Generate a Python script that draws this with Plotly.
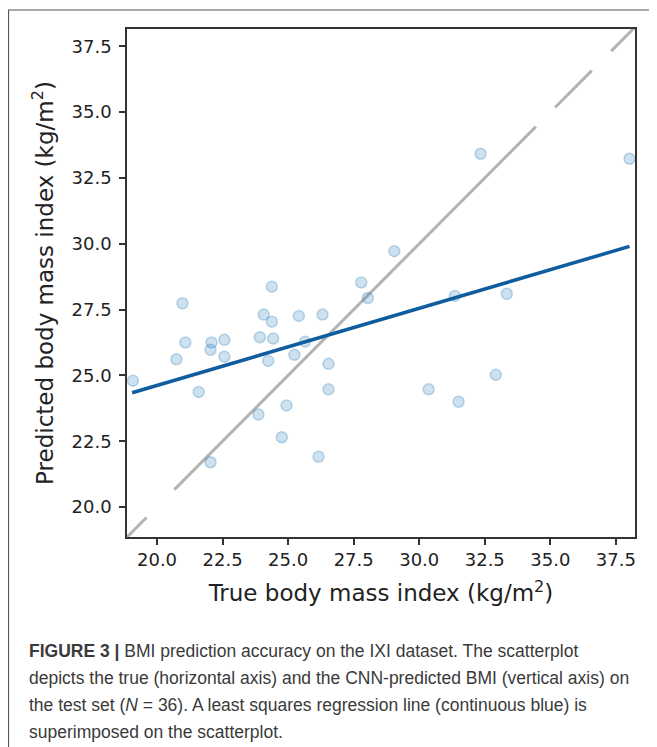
import plotly.graph_objects as go

# ---- data ----
true_bmi = [19.08, 20.97, 21.08, 20.74, 21.59, 22.08, 22.04, 22.57, 22.57, 22.04,
            23.92, 24.07, 24.38, 24.38, 24.43, 24.24, 23.87, 24.94, 24.76, 25.41,
            25.24, 25.65, 26.31, 26.54, 26.54, 26.16, 27.79, 28.04, 29.05, 32.34,
            38.02, 31.36, 33.34, 30.36, 31.50, 32.92]
pred_bmi = [24.80, 27.74, 26.25, 25.61, 24.37, 26.25, 25.97, 26.35, 25.71, 21.70,
            26.45, 27.31, 27.04, 28.37, 26.40, 25.55, 23.51, 23.86, 22.65, 27.26,
            25.78, 26.28, 27.31, 25.44, 24.47, 21.91, 28.53, 27.94, 29.72, 33.42,
            33.23, 28.02, 28.10, 24.47, 24.00, 25.02]

reg_x = [19.05, 38.02]
reg_y = [24.34, 29.90]

# identity line (y = x) drawn as visible segments
ident_x = [18.86, 19.60, None, 20.66, 34.45, None, 35.18, 36.58, None, 37.32, 38.20]
ident_y = ident_x

tick_vals = [20.0, 22.5, 25.0, 27.5, 30.0, 32.5, 35.0, 37.5]
tick_text = ["20.0", "22.5", "25.0", "27.5", "30.0", "32.5", "35.0", "37.5"]

x_title = "True body mass index (kg/m<sup>2</sup>)"
y_title = "Predicted body mass index (kg/m<sup>2</sup>)"

caption_lines = [
    "<b>FIGURE 3 |</b> BMI prediction accuracy on the IXI dataset. The scatterplot",
    "depicts the true (horizontal axis) and the CNN-predicted BMI (vertical axis) on",
    "the test set (<i>N</i> = 36). A least squares regression line (continuous blue) is",
    "superimposed on the scatterplot.",
]

# ---- layout geometry (page pixels; the page body adds an 8px offset) ----
OFF = 8
W, H = 657 - OFF, 747 - OFF
L, R, T, B = 127 - OFF, 22, 29 - OFF, 210
PW = W - L - R
PH = H - T - B


def px(xp):
    """page x pixel -> paper fraction"""
    return (xp - OFF - L) / PW


def py(yp):
    """page y pixel -> paper fraction"""
    return (H - B - (yp - OFF)) / PH


fig = go.Figure()

fig.add_trace(go.Scatter(
    x=ident_x, y=ident_y, mode="lines",
    line=dict(color="#b3b3b3", width=3),
    hoverinfo="skip", showlegend=False, connectgaps=False,
))

fig.add_trace(go.Scatter(
    x=true_bmi, y=pred_bmi, mode="markers",
    marker=dict(size=11, color="rgba(31,119,180,0.22)",
                line=dict(color="rgba(31,119,180,0.28)", width=1.5)),
    showlegend=False,
))

fig.add_trace(go.Scatter(
    x=reg_x, y=reg_y, mode="lines",
    line=dict(color="#0f5c9f", width=3.5),
    showlegend=False,
))

axis_common = dict(
    tickvals=tick_vals, ticktext=tick_text,
    showgrid=False, zeroline=False,
    showline=True, linecolor="#333333", linewidth=1.5, mirror=True,
    ticks="outside", ticklen=6, tickwidth=1.5, tickcolor="#333333",
    tickfont=dict(family="DejaVu Sans", size=18, color="#222222"),
)

fig.update_xaxes(range=[18.855, 38.23],
                 title=dict(text=x_title, font=dict(family="DejaVu Sans", size=23, color="#222222"),
                            standoff=16),
                 **axis_common)
fig.update_yaxes(range=[18.86, 38.16], ticklabelstandoff=4,
                 title=dict(text=y_title, font=dict(family="DejaVu Sans", size=23, color="#222222"),
                            standoff=12),
                 **axis_common)

shapes = [
    dict(type="line", xref="paper", yref="paper",
         x0=px(8), x1=px(670), y0=py(10), y1=py(10),
         line=dict(color="#555555", width=1.2)),
    dict(type="line", xref="paper", yref="paper",
         x0=px(8.5), x1=px(8.5), y0=py(10), y1=py(760),
         line=dict(color="#555555", width=1.2)),
]

caption_centres = [651, 678, 705, 732]
annotations = []
for text, yc in zip(caption_lines, caption_centres):
    annotations.append(dict(
        text=text, xref="paper", yref="paper",
        x=px(27), y=py(yc), xanchor="left", yanchor="middle",
        showarrow=False, align="left",
        font=dict(family="Liberation Sans, Arial", size=17.5, color="#3a3a3a"),
    ))

fig.update_layout(
    width=W, height=H,
    margin=dict(l=L, r=R, t=T, b=B),
    paper_bgcolor="white", plot_bgcolor="white",
    shapes=shapes, annotations=annotations,
    showlegend=False,
)

fig.write_html("out.html")
